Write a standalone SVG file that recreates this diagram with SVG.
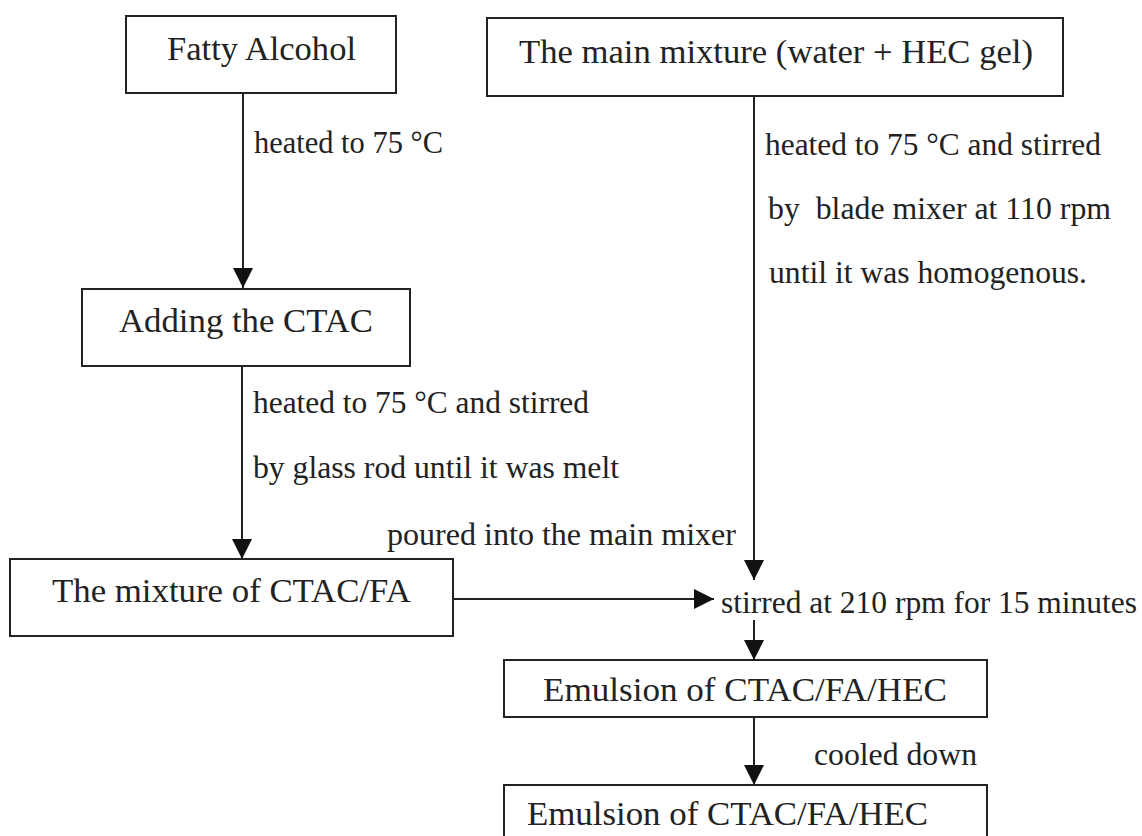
<svg xmlns="http://www.w3.org/2000/svg" width="1142" height="836" viewBox="0 0 1142 836">
<style>
.box{fill:#fff;stroke:#222;stroke-width:2}
.t{font-size:34.5px;fill:#222}
.l{font-size:31.7px;fill:#222}
.c{stroke:#222;stroke-width:2;fill:none}
</style>
<defs>
<marker id="ah" markerUnits="userSpaceOnUse" markerWidth="20" markerHeight="20" refX="20" refY="10" orient="auto">
<path d="M0,0 L20,10 L0,20 z" fill="#111"/>
</marker>
</defs>
<rect width="1142" height="836" fill="#fff"/>
<g id="connectors">
<path class="c" d="M243,93 V288" marker-end="url(#ah)"/>
<path class="c" d="M242,366 V559" marker-end="url(#ah)"/>
<path class="c" d="M754,96 V580" marker-end="url(#ah)"/>
<path class="c" d="M453,599 H714" marker-end="url(#ah)"/>
<path class="c" d="M754,620 V660" marker-end="url(#ah)"/>
<path class="c" d="M754,717 V785" marker-end="url(#ah)"/>
</g>
<g font-family="Liberation Serif, serif">
<g id="labels">
<text class="l" x="254" y="153" textLength="189" lengthAdjust="spacingAndGlyphs">heated to 75 °C</text>
<text class="l" x="253" y="413" textLength="336" lengthAdjust="spacingAndGlyphs">heated to 75 °C and stirred</text>
<text class="l" x="253" y="478" textLength="366" lengthAdjust="spacingAndGlyphs">by glass rod until it was melt</text>
<text class="l" x="387" y="545" textLength="349" lengthAdjust="spacingAndGlyphs">poured into the main mixer</text>
<text class="l" x="765" y="155" textLength="336" lengthAdjust="spacingAndGlyphs">heated to 75 °C and stirred</text>
<text class="l" x="768" y="219" textLength="343" lengthAdjust="spacingAndGlyphs" xml:space="preserve">by  blade mixer at 110 rpm</text>
<text class="l" x="769" y="283" textLength="318" lengthAdjust="spacingAndGlyphs">until it was homogenous.</text>
<text class="l" x="721" y="613" textLength="416" lengthAdjust="spacingAndGlyphs">stirred at 210 rpm for 15 minutes</text>
<text class="l" x="814" y="765" textLength="163" lengthAdjust="spacingAndGlyphs">cooled down</text>
</g>
<g id="fatty-alcohol">
<rect class="box" x="126" y="16" width="270" height="77"/>
<text class="t" x="167" y="60" textLength="189" lengthAdjust="spacingAndGlyphs">Fatty Alcohol</text>
</g>
<g id="main-mixture">
<rect class="box" x="487" y="18" width="576" height="78"/>
<text class="t" x="519" y="63" textLength="514" lengthAdjust="spacingAndGlyphs">The main mixture (water + HEC gel)</text>
</g>
<g id="adding-ctac">
<rect class="box" x="82" y="289" width="328" height="77"/>
<text class="t" x="119" y="332" textLength="254" lengthAdjust="spacingAndGlyphs">Adding the CTAC</text>
</g>
<g id="mixture-ctac-fa">
<rect class="box" x="10" y="559" width="443" height="77"/>
<text class="t" x="52" y="602" textLength="359" lengthAdjust="spacingAndGlyphs">The mixture of CTAC/FA</text>
</g>
<g id="emulsion-1">
<rect class="box" x="504" y="660" width="483" height="57"/>
<text class="t" x="543" y="701" textLength="404" lengthAdjust="spacingAndGlyphs">Emulsion of CTAC/FA/HEC</text>
</g>
<g id="emulsion-2">
<rect class="box" x="504" y="785" width="483" height="70"/>
<text class="t" x="527" y="825" textLength="401" lengthAdjust="spacingAndGlyphs">Emulsion of CTAC/FA/HEC</text>
</g>
</g>
</svg>
